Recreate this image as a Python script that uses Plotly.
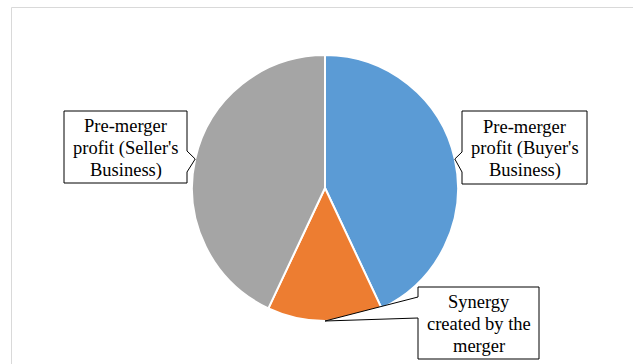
import math
import plotly.graph_objects as go

# Profit split of the merged business (clockwise from 12 o'clock)
labels = ["Pre-merger<br>profit (Buyer's<br>Business)",
          "Synergy<br>created by the<br>merger",
          "Pre-merger<br>profit (Seller's<br>Business)"]
values = [43, 14, 43]
colors = ["#5B9BD5", "#ED7D31", "#A5A5A5"]

W, H = 633, 364
CX, CY, R = 325, 188, 133  # pie centre and radius in pixels
LINE_GAP = 22              # baseline spacing of callout text, pixels

fig = go.Figure()

fig.add_trace(go.Pie(
    labels=labels,
    values=values,
    sort=False,
    direction="clockwise",
    rotation=0,
    textinfo="none",
    hoverinfo="label+percent",
    showlegend=False,
    marker=dict(colors=colors, line=dict(color="white", width=2)),
    domain=dict(x=[(CX - R) / W, (CX + R) / W],
                y=[(H - CY - R) / H, (H - CY + R) / H]),
))


def slice_tip(i):
    """Point on the rim at the middle angle of slice i."""
    total = sum(values)
    start = sum(values[:i]) / total * 360
    mid = math.radians(start + values[i] / total * 180)
    return CX + R * math.sin(mid), CY - R * math.cos(mid)


# Callout boxes: (left, top, right, bottom), side of the pointer, pointer span
boxes = [
    dict(box=(462, 111, 587, 184), side="left", span=(152, 172)),
    dict(box=(418, 287, 539, 359), side="left", span=(297, 318)),
    dict(box=(64, 111, 187, 183), side="right", span=(151, 172)),
]

shapes = [dict(type="rect", xref="x", yref="y", x0=11.5, y0=7.5, x1=W + 10, y1=H + 10,
               line=dict(color="#D9D9D9", width=1), fillcolor="rgba(0,0,0,0)", layer="below")]
annotations = []
for i, b in enumerate(boxes):
    x0, y0, x1, y1 = b["box"]
    tx, ty = slice_tip(i)
    s0, s1 = b["span"]
    if b["side"] == "left":
        path = (f"M {x0},{y0} L {x1},{y0} L {x1},{y1} L {x0},{y1} "
                f"L {x0},{s1} L {tx:.1f},{ty:.1f} L {x0},{s0} Z")
    else:
        path = (f"M {x0},{y0} L {x1},{y0} L {x1},{s0} L {tx:.1f},{ty:.1f} "
                f"L {x1},{s1} L {x1},{y1} L {x0},{y1} Z")
    shapes.append(dict(type="path", xref="x", yref="y", path=path,
                       fillcolor="white", line=dict(color="black", width=1)))
    lines = labels[i].split("<br>")
    mid_y = (y0 + y1) / 2 + 1
    for k, line in enumerate(lines):
        annotations.append(dict(x=(x0 + x1) / 2,
                                y=mid_y + (k - (len(lines) - 1) / 2) * LINE_GAP,
                                xref="x", yref="y", text=line, showarrow=False,
                                align="center",
                                font=dict(family="Liberation Serif", size=18.5,
                                          color="black")))

fig.update_layout(
    width=W, height=H,
    margin=dict(l=0, r=0, t=0, b=0),
    paper_bgcolor="white",
    plot_bgcolor="rgba(0,0,0,0)",
    xaxis=dict(range=[0, W], visible=False, fixedrange=True),
    yaxis=dict(range=[H, 0], visible=False, fixedrange=True),
    shapes=shapes,
    annotations=annotations,
)

fig.write_html("out.html")
